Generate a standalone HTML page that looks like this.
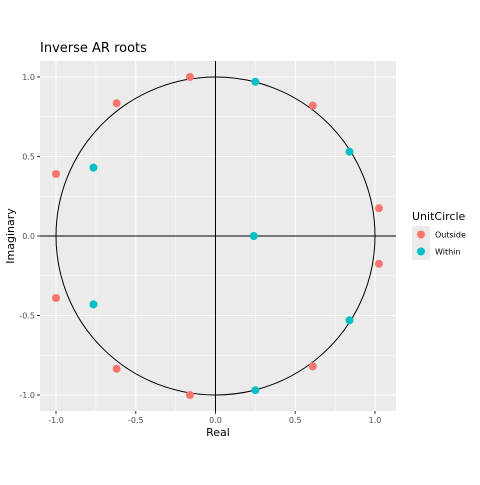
<!DOCTYPE html>
<html><head><meta charset="utf-8"><style>
body{margin:0;background:#fff;}
svg text{font-family:"DejaVu Sans","Liberation Sans",sans-serif;}
</style></head><body>
<svg width="480" height="480" xmlns="http://www.w3.org/2000/svg">
<g id="chart"></g>
</svg>
<script>
const outsideRe=[-0.16,-0.62,0.61,-1.0,1.025,-0.16,-0.62,0.61,-1.0,1.025];
const outsideIm=[1.0,0.835,0.82,0.39,0.175,-1.0,-0.835,-0.82,-0.39,-0.175];
const withinRe=[0.25,0.84,-0.765,0.24,0.25,0.84,-0.765];
const withinIm=[0.97,0.53,0.43,0.0,-0.97,-0.53,-0.43];
const xTicks=[-1.0,-0.5,0.0,0.5,1.0];
const yTicks=[-1.0,-0.5,0.0,0.5,1.0];
const xTickLabels=["-1.0","-0.5","0.0","0.5","1.0"];
const yTickLabels=["-1.0","-0.5","0.0","0.5","1.0"];

const NS="http://www.w3.org/2000/svg";
const g=document.getElementById('chart');
const L=40,R=396,T=61,B=411;
const xs=v=>215.5+v*159.5;
const ys=v=>236-v*159;
function el(tag,attrs,parent){const e=document.createElementNS(NS,tag);for(const k in attrs)e.setAttribute(k,attrs[k]);(parent||g).appendChild(e);return e;}

let e=el('text',{x:40,y:52,'font-size':13,fill:'#000'});e.textContent='Inverse AR roots';


e=el('rect',{x:L,y:T,width:R-L,height:B-T,fill:'#ebebeb'});


// minor grid
for(let i=0;i<xTicks.length-1;i++){const m=(xTicks[i]+xTicks[i+1])/2;el('line',{x1:xs(m),x2:xs(m),y1:T,y2:B,stroke:'#fff','stroke-width':0.5});}
for(let i=0;i<yTicks.length-1;i++){const m=(yTicks[i]+yTicks[i+1])/2;el('line',{x1:L,x2:R,y1:ys(m),y2:ys(m),stroke:'#fff','stroke-width':0.5});}
xTicks.forEach((v,i)=>{
 e=el('line',{x1:xs(v),x2:xs(v),y1:T,y2:B,stroke:'#fff','stroke-width':1});
 
 
 el('line',{x1:xs(v),x2:xs(v),y1:B,y2:B+3,stroke:'#333'});
 const t=el('text',{x:xs(v),y:B+12,'font-size':8,fill:'#4d4d4d','text-anchor':'middle'});t.textContent=xTickLabels[i];
 
 
});
yTicks.forEach((v,i)=>{
 e=el('line',{x1:L,x2:R,y1:ys(v),y2:ys(v),stroke:'#fff','stroke-width':1});
 
 
 el('line',{x1:L-3,x2:L,y1:ys(v),y2:ys(v),stroke:'#333'});
 const t=el('text',{x:L-5,y:ys(v)+3,'font-size':8,fill:'#4d4d4d','text-anchor':'end'});t.textContent=yTickLabels[i];
 
 
});
e=el('line',{x1:xs(0),x2:xs(0),y1:T,y2:B,stroke:'#000','stroke-width':1});


e=el('line',{x1:L,x2:R,y1:ys(0),y2:ys(0),stroke:'#000','stroke-width':1});


e=el('ellipse',{cx:xs(0),cy:ys(0),rx:159.5,ry:159,fill:'none',stroke:'#000','stroke-width':1});


outsideRe.forEach((v,i)=>{
 const c=el('circle',{cx:xs(v),cy:ys(outsideIm[i]),r:4,fill:'#f8766d'});
 
 
});
withinRe.forEach((v,i)=>{
 const c=el('circle',{cx:xs(v),cy:ys(withinIm[i]),r:4,fill:'#00bfc4'});
 
 
});
e=el('text',{x:(L+R)/2,y:436,'font-size':11,fill:'#000','text-anchor':'middle'});e.textContent='Real';


e=el('text',{x:0,y:0,'font-size':11,fill:'#000','text-anchor':'middle',transform:'translate(14,236) rotate(-90)'});e.textContent='Imaginary';


// legend
e=el('text',{x:412,y:220,'font-size':11,fill:'#000'});e.textContent='UnitCircle';


[['Outside','#f8766d'],['Within','#00bfc4']].forEach((d,i)=>{
 const y=226+i*17;
 el('rect',{x:412,y:y,width:18,height:17,fill:'#ebebeb'});
 const c=el('circle',{cx:421,cy:y+8.5,r:4,fill:d[1]});
 
 
 const t=el('text',{x:435,y:y+11.5,'font-size':8,fill:'#000'});t.textContent=d[0];
 
 
});
</script>
</body></html>
